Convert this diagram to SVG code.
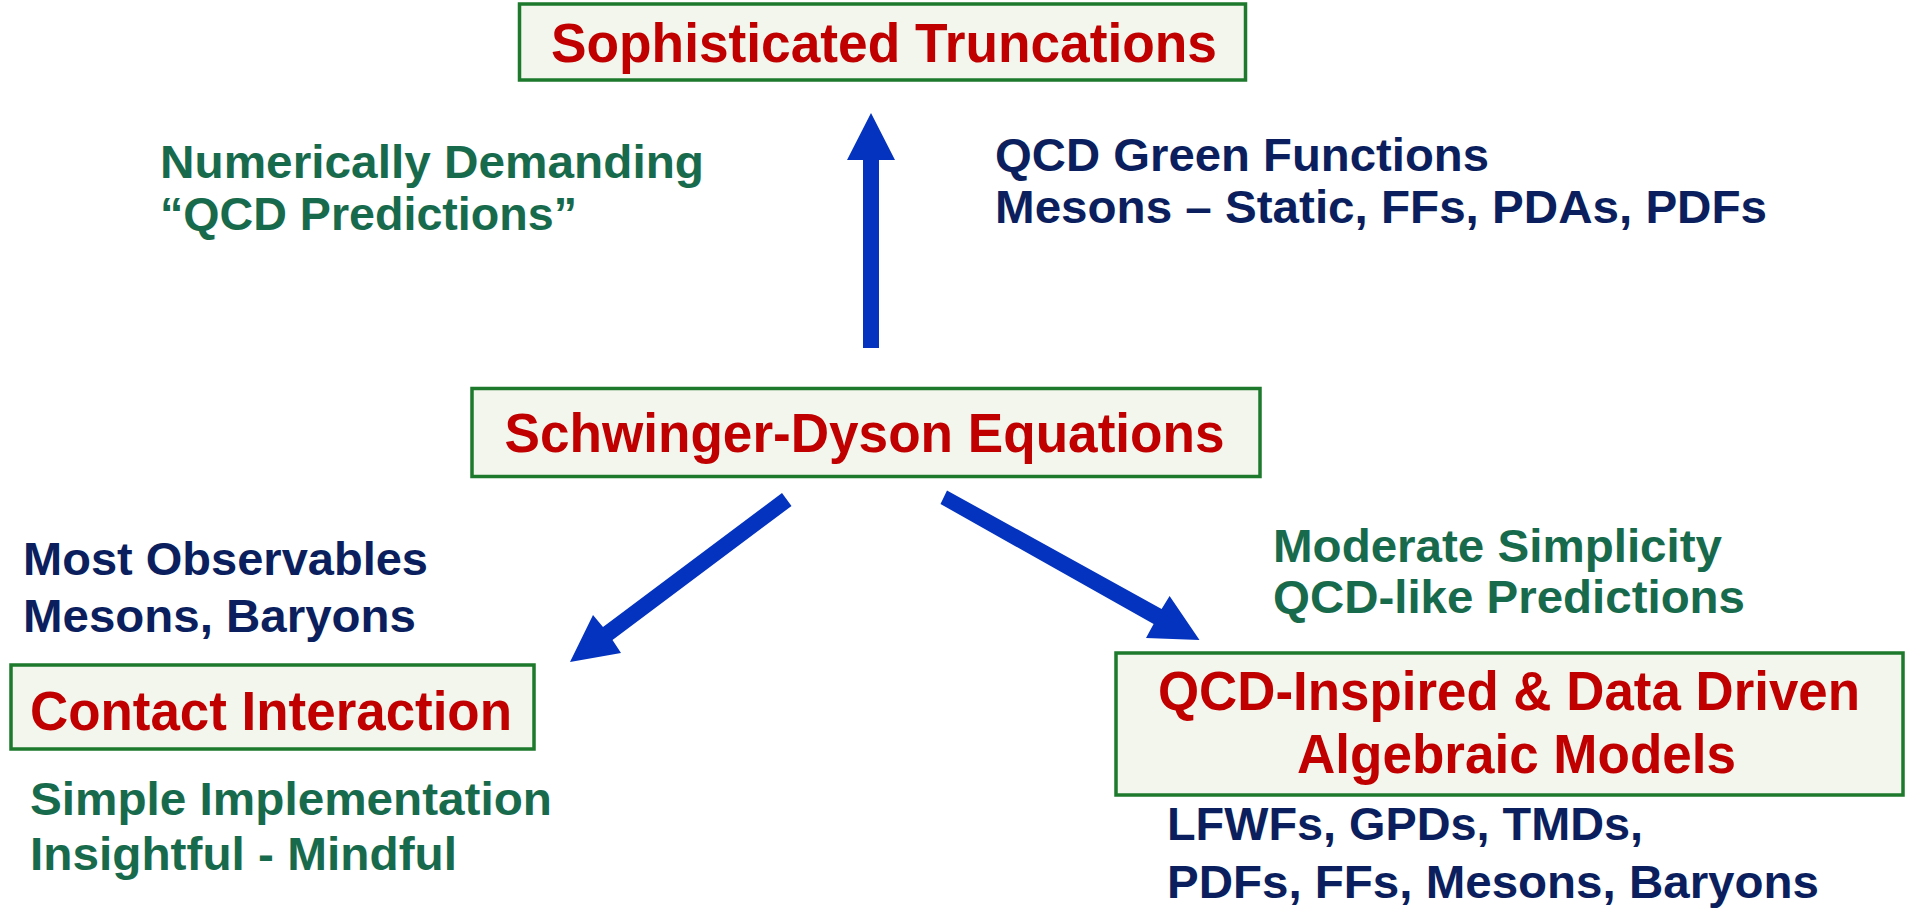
<svg xmlns="http://www.w3.org/2000/svg" width="1911" height="908" viewBox="0 0 1911 908">
  <style>
    .box { fill: #f3f6ed; stroke: #1d7a2c; stroke-width: 3.5; }
    .title { font-family: "Liberation Sans", Arial, sans-serif; font-weight: bold; font-size: 55px; fill: #c00000; }
    .note { font-family: "Liberation Sans", Arial, sans-serif; font-weight: bold; font-size: 47px; }
    .navy { fill: #0b1f5e; }
    .green { fill: #176b4c; }
    .arrow { fill: #0433bf; }
  </style>
  <rect width="1911" height="908" fill="#ffffff"/>

  <!-- connectors: block arrows leaving the central node -->
  <g id="connectors">
    <polygon class="arrow" points="863,348 879,348 879,160 895,160 871,113 847,160 863,160"/>
    <polygon class="arrow" points="782,493 791.5,506 612.5,640 621,653 570,662 593,615 603,627"/>
    <polygon class="arrow" points="947,490.5 940.5,504 1153.6,624 1146,638 1199.5,640 1169.6,596 1161.6,609"/>
  </g>

  <g id="sophisticated-truncations">
    <rect class="box" x="519.5" y="4" width="726" height="76"/>
    <text class="title" x="551" y="62" textLength="666" lengthAdjust="spacingAndGlyphs">Sophisticated Truncations</text>
  </g>

  <g id="schwinger-dyson">
    <rect class="box" x="472" y="388.5" width="788" height="88"/>
    <text class="title" x="504.5" y="452" textLength="720" lengthAdjust="spacingAndGlyphs">Schwinger-Dyson Equations</text>
  </g>

  <g id="contact-interaction">
    <rect class="box" x="11" y="665" width="523" height="84"/>
    <text class="title" x="30" y="730" textLength="482" lengthAdjust="spacingAndGlyphs">Contact Interaction</text>
  </g>

  <g id="algebraic-models">
    <rect class="box" x="1116" y="653" width="787" height="142"/>
    <text class="title" x="1158" y="710" textLength="702" lengthAdjust="spacingAndGlyphs">QCD-Inspired &amp; Data Driven</text>
    <text class="title" x="1297" y="773" textLength="439" lengthAdjust="spacingAndGlyphs">Algebraic Models</text>
  </g>

  <g id="truncations-notes">
    <text class="note green" x="160" y="178" textLength="544" lengthAdjust="spacingAndGlyphs">Numerically Demanding</text>
    <text class="note green" x="160" y="230" textLength="417" lengthAdjust="spacingAndGlyphs">“QCD Predictions”</text>
    <text class="note navy" x="995" y="171" textLength="494" lengthAdjust="spacingAndGlyphs">QCD Green Functions</text>
    <text class="note navy" x="995" y="223" textLength="772" lengthAdjust="spacingAndGlyphs">Mesons – Static, FFs, PDAs, PDFs</text>
  </g>

  <g id="contact-notes">
    <text class="note navy" x="23" y="575" textLength="405" lengthAdjust="spacingAndGlyphs">Most Observables</text>
    <text class="note navy" x="23" y="632" textLength="393" lengthAdjust="spacingAndGlyphs">Mesons, Baryons</text>
    <text class="note green" x="30" y="815" textLength="522" lengthAdjust="spacingAndGlyphs">Simple Implementation</text>
    <text class="note green" x="30" y="870" textLength="427" lengthAdjust="spacingAndGlyphs">Insightful - Mindful</text>
  </g>

  <g id="algebraic-notes">
    <text class="note green" x="1273" y="562" textLength="449" lengthAdjust="spacingAndGlyphs">Moderate Simplicity</text>
    <text class="note green" x="1273" y="613" textLength="472" lengthAdjust="spacingAndGlyphs">QCD-like Predictions</text>
    <text class="note navy" x="1167" y="840" textLength="476" lengthAdjust="spacingAndGlyphs">LFWFs, GPDs, TMDs,</text>
    <text class="note navy" x="1167" y="898" textLength="652" lengthAdjust="spacingAndGlyphs">PDFs, FFs, Mesons, Baryons</text>
  </g>
</svg>
